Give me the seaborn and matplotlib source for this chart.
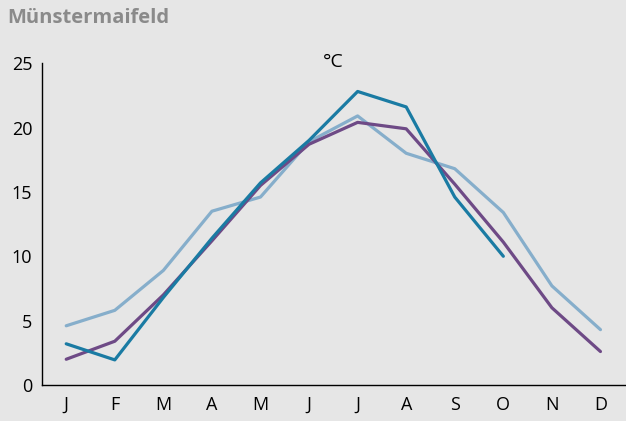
import pandas as pd
import numpy as np
import matplotlib.pyplot as plt
import seaborn as sns

sns.set_theme(style="white")
plt.rcParams["font.family"] = ["Open Sans", "DejaVu Sans"]

BG = "#e6e6e6"

months = ["J", "F", "M", "A", "M", "J", "J", "A", "S", "O", "N", "D"]
reihe_hell = [4.6, 5.8, 8.9, 13.5, 14.6, 18.9, 20.9, 18.0, 16.8, 13.4, 7.7, 4.3]
reihe_lila = [2.0, 3.4, 7.0, 11.2, 15.5, 18.7, 20.4, 19.9, 15.6, 11.1, 6.0, 2.6]
reihe_dunkel = [3.2, 1.95, 6.8, 11.4, 15.7, 19.0, 22.8, 21.6, 14.6, 10.0, np.nan, np.nan]

colors = {"hell": "#86aecb", "lila": "#6e4a86", "dunkel": "#1a7ba3"}

df = pd.DataFrame({
    "monat": list(range(12)) * 3,
    "temp": reihe_hell + reihe_lila + reihe_dunkel,
    "reihe": ["hell"] * 12 + ["lila"] * 12 + ["dunkel"] * 12,
}).dropna()

fig = plt.figure(figsize=(6.26, 4.21), dpi=100, facecolor=BG)
ax = fig.add_axes([0.067, 0.0855, 0.931, 0.7645])
ax.set_facecolor(BG)

sns.lineplot(
    data=df, x="monat", y="temp", hue="reihe", palette=colors,
    hue_order=["hell", "lila", "dunkel"], linewidth=2.3, legend=False, ax=ax,
)

ax.set_xlim(-0.5, 11.5)
ax.set_ylim(0, 25)
ax.set_yticks([0, 5, 10, 15, 20, 25])
ax.set_xticks(np.arange(-0.5, 12, 1))
ax.set_xticklabels([])
ax.set_xticks(np.arange(12), minor=True)
ax.set_xticklabels(months, minor=True)
ax.tick_params(axis="x", which="major", length=5, width=1, color="black", direction="out")
ax.tick_params(axis="x", which="minor", length=0, pad=8, labelsize=13, labelcolor="black")
ax.tick_params(axis="y", length=5, width=1, color="black", direction="out",
               labelsize=13, pad=2, labelcolor="black")
ax.set_xlabel("")
ax.set_ylabel("")

for s in ["top", "right"]:
    ax.spines[s].set_visible(False)
for s in ["left", "bottom"]:
    ax.spines[s].set_color("black")
    ax.spines[s].set_linewidth(1)

ax.text(0.5, 1.005, "°C", transform=ax.transAxes, fontsize=14, color="black",
        ha="center", va="center")
fig.text(0.012, 0.957, "Münstermaifeld", fontsize=14.5, fontweight="bold",
         color="#8a8a8a", va="center", ha="left")

fig.savefig("out.png", dpi=100, facecolor=BG)
